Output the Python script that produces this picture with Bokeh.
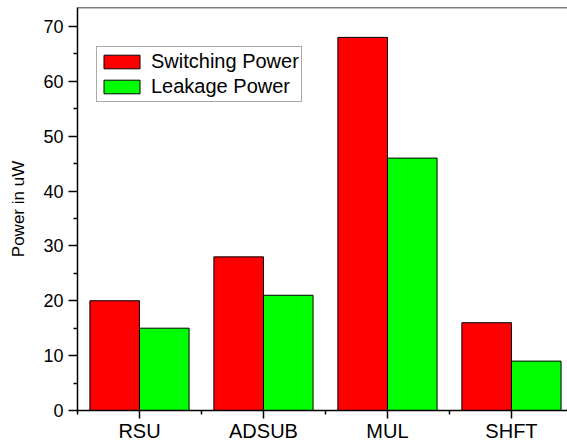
from bokeh.plotting import figure
from bokeh.models import (ColumnDataSource, Range1d, FixedTicker,
                          Legend, LegendItem, Span)
from bokeh.transform import dodge
from bokeh.embed import file_html
from bokeh.resources import INLINE

categories = ["RSU", "ADSUB", "MUL", "SHFT"]
switching = [20, 28, 68, 16]
leakage = [15, 21, 46, 9]
y_ticks = [0, 10, 20, 30, 40, 50, 60, 70]
y_minor = [5, 15, 25, 35, 45, 55, 65]

xs = list(range(1, len(categories) + 1))
src = ColumnDataSource(dict(x=xs, switching=switching, leakage=leakage))

FONT = "Liberation Sans"
Y_TOP = 73.45

p = figure(width=567, height=444, output_backend="svg", toolbar_location=None,
           x_range=Range1d(0.5, 4.452), y_range=Range1d(0, Y_TOP),
           min_border_left=77, min_border_right=0, min_border_top=7, min_border_bottom=33)
p.outline_line_color = None
p.xgrid.visible = False
p.ygrid.visible = False
p.background_fill_color = "white"

r1 = p.vbar(x=dodge("x", -0.2, range=p.x_range), top="switching", width=0.4, source=src,
            fill_color="#FF0000", line_color="black", line_width=1)
r2 = p.vbar(x=dodge("x", 0.2, range=p.x_range), top="leakage", width=0.4, source=src,
            fill_color="#00FF00", line_color="black", line_width=1)

p.add_layout(Span(location=Y_TOP, dimension="width", line_color="black", line_width=1.5))

xa = p.xaxis[0]
xa.ticker = FixedTicker(ticks=xs, minor_ticks=[0.5, 1.5, 2.5, 3.5])
xa.major_label_overrides = {x: c for x, c in zip(xs, categories)}
xa.major_label_text_font = FONT
xa.major_label_text_font_size = "20px"
xa.major_label_text_color = "black"
xa.major_label_standoff = 1
xa.major_tick_out = 8
xa.major_tick_in = 0
xa.minor_tick_out = 4
xa.minor_tick_in = 0
xa.axis_line_width = 1.5
xa.major_tick_line_width = 1.5
xa.minor_tick_line_width = 1.5

ya = p.yaxis[0]
ya.ticker = FixedTicker(ticks=y_ticks, minor_ticks=y_minor)
ya.major_label_text_font = FONT
ya.major_label_text_font_size = "18px"
ya.major_label_text_color = "black"
ya.major_label_standoff = 5
ya.major_tick_out = 9
ya.major_tick_in = 0
ya.minor_tick_out = 4
ya.minor_tick_in = 0
ya.axis_line_width = 1.5
ya.major_tick_line_width = 1.5
ya.minor_tick_line_width = 1.5
ya.axis_label = "Power in uW"
ya.axis_label_text_font = FONT
ya.axis_label_text_font_size = "17px"
ya.axis_label_text_font_style = "normal"
ya.axis_label_text_color = "black"
ya.axis_label_standoff = 12

legend = Legend(items=[LegendItem(label="Switching Power", renderers=[r1]),
                       LegendItem(label="Leakage Power", renderers=[r2])],
                location=(19, 308), margin=0, padding=2, spacing=0,
                glyph_width=45, glyph_height=17, label_height=25, label_standoff=7,
                label_text_font=FONT, label_text_font_size="20px", label_text_color="black",
                border_line_color="#555555", border_line_width=1.5,
                background_fill_color="white", background_fill_alpha=1)
p.add_layout(legend)

open("out.html", "w").write(file_html(p, INLINE))
